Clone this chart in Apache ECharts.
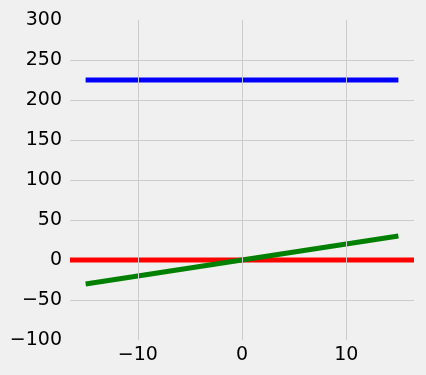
<!DOCTYPE html>
<html>
<head>
<meta charset="utf-8">
<script src="https://cdn.jsdelivr.net/npm/echarts@6/dist/echarts.min.js"></script>
<style>
html,body{margin:0;padding:0;background:#f0f0f0;}
#chart{width:426px;height:375px;}
</style>
</head>
<body>
<div id="chart"></div>
<script>
// Data
const lineX = [-15, 15];
const blueValues = [225, 225];
const greenValues = [-30, 30];
const redLevel = 0;
const xTicks = [-10, 0, 10];
const xLimits = [-16.5, 16.5];
const yLimits = [-100, 300];

const chart = echarts.init(document.getElementById('chart'));
const font = 'DejaVu Sans';
const gridColor = '#cbcbcb';

chart.setOption({
  backgroundColor: '#f0f0f0',
  animation: false,
  grid: {left: 70, right: 12, top: 20, bottom: 35},
  xAxis: {
    type: 'value',
    min: xLimits[0], max: xLimits[1],
    axisLine: {show: false},
    axisTick: {show: false},
    splitLine: {show: false},
    axisLabel: {
      customValues: xTicks,
      color: '#000', fontFamily: font, fontSize: 19, margin: 6,
      formatter: v => (v < 0 ? '\u2212' + Math.abs(v) : String(v))
    }
  },
  yAxis: {
    type: 'value',
    min: yLimits[0], max: yLimits[1], interval: 50,
    axisLine: {show: false},
    axisTick: {show: false},
    splitLine: {show: true, showMinLine: false, showMaxLine: false, lineStyle: {color: gridColor, width: 1}},
    axisLabel: {
      color: '#000', fontFamily: font, fontSize: 19, margin: 8,
      formatter: v => (v < 0 ? '\u2212' + Math.abs(v) : String(v))
    }
  },
  series: [
    {
      type: 'line', data: [], silent: true, z: 1,
      markLine: {
        symbol: 'none', silent: true, label: {show: false},
        lineStyle: {color: gridColor, width: 1, type: 'solid'},
        data: xTicks.map(v => ({xAxis: v}))
      }
    },
    {
      type: 'line', data: lineX.map((x, i) => [x, blueValues[i]]),
      showSymbol: false, lineStyle: {color: '#0000ff', width: 5}, z: 3
    },
    {
      type: 'line', data: xLimits.map(x => [x, redLevel]),
      showSymbol: false, lineStyle: {color: '#ff0000', width: 5}, z: 3
    },
    {
      type: 'line', data: lineX.map((x, i) => [x, greenValues[i]]),
      showSymbol: false, lineStyle: {color: '#008000', width: 5}, z: 4
    }
  ]
});
</script>
</body>
</html>
